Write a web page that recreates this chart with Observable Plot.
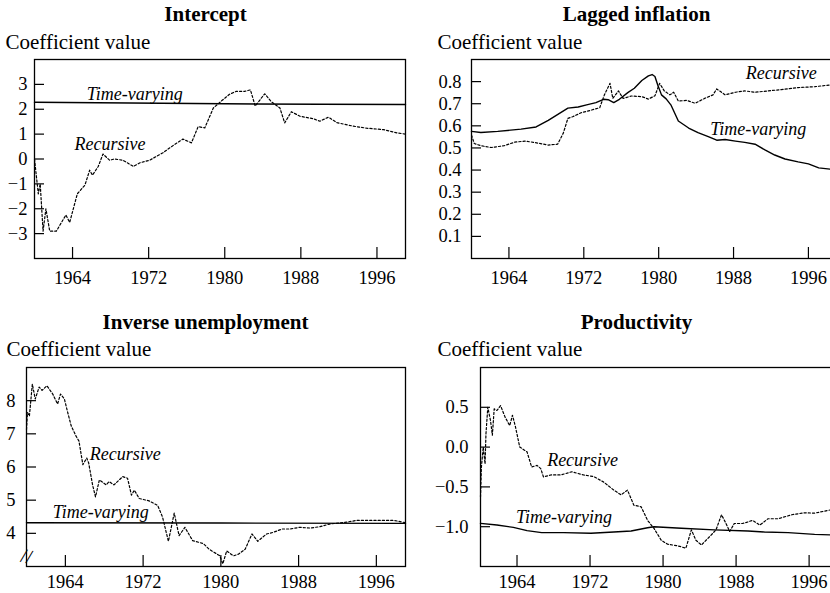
<!DOCTYPE html>
<html>
<head>
<meta charset="utf-8">
<script src="https://cdn.jsdelivr.net/npm/d3@7"></script>
<script src="https://cdn.jsdelivr.net/npm/@observablehq/plot@0.6"></script>
<style>
  html, body { margin: 0; padding: 0; background: #fff; overflow: hidden; }
  #wrap { position: relative; width: 830px; height: 593px; overflow: hidden; background: #fff; }
  #wrap svg { position: absolute; max-width: none !important; font-family: "Liberation Serif", "Times New Roman", serif !important; }
  #wrap svg text { font-family: "Liberation Serif", "Times New Roman", serif !important; }
</style>
</head>
<body>
<div id="wrap"></div>
<script>
// ---------- shared ----------
const xTickYears = [1964, 1972, 1980, 1988, 1996];
const seriesNames = ["Time-varying", "Recursive"];

// ---------- Intercept ----------
const icptTVYears = [1960, 1970, 1980, 1990, 1999];
const icptTV = [2.28, 2.25, 2.22, 2.2, 2.19];
const icptRecYears = [1960.0, 1960.4, 1960.6, 1960.9, 1961.2, 1961.6, 1962.3, 1963.3, 1963.7, 1964.5, 1965.3, 1965.8, 1966.1, 1966.7, 1967.2, 1967.9, 1968.4, 1969.3, 1970.4, 1971.1, 1972.1, 1973.5, 1974.6, 1975.6, 1976.5, 1977.2, 1977.9, 1978.8, 1979.7, 1980.5, 1981.2, 1982.1, 1982.7, 1983.2, 1984.2, 1984.9, 1985.8, 1986.3, 1987.0, 1987.9, 1989.3, 1990.0, 1990.9, 1991.8, 1993.5, 1994.9, 1996.7, 1998.1, 1999.0];
const icptRec = [0.0, -1.4, -1.0, -2.9, -2.0, -2.9, -2.9, -2.25, -2.55, -1.4, -1.05, -0.45, -0.65, -0.3, 0.2, -0.05, 0.0, -0.05, -0.3, -0.15, -0.05, 0.25, 0.55, 0.8, 0.65, 1.3, 1.25, 2.05, 2.35, 2.6, 2.72, 2.72, 2.78, 2.13, 2.62, 2.3, 2.05, 1.45, 1.9, 1.72, 1.62, 1.52, 1.68, 1.46, 1.32, 1.24, 1.18, 1.05, 1.0];
const icptYTicks = [-3, -2, -1, 0, 1, 2, 3];
const icptLabelX = [1965.5, 1964.2];
const icptLabelY = [2.6, 0.6];

// ---------- Lagged inflation ----------
const lagTVYears = [1960, 1961, 1962.8, 1965.3, 1966.9, 1968.2, 1970.3, 1971.4, 1972.3, 1973.3, 1974.1, 1974.6, 1975.2, 1975.8, 1976.7, 1977.4, 1978.2, 1978.9, 1979.3, 1979.6, 1979.9, 1980.3, 1980.8, 1981.3, 1982.1, 1983.2, 1984.2, 1985.3, 1986.2, 1987.1, 1988.2, 1989.2, 1990.3, 1991.4, 1992.4, 1993.5, 1994.9, 1996.0, 1997.1, 1998.3, 1999];
const lagTV = [0.575, 0.57, 0.575, 0.585, 0.595, 0.625, 0.68, 0.685, 0.695, 0.705, 0.72, 0.718, 0.705, 0.72, 0.75, 0.77, 0.805, 0.826, 0.832, 0.823, 0.785, 0.74, 0.722, 0.695, 0.622, 0.59, 0.569, 0.551, 0.535, 0.538, 0.531, 0.525, 0.517, 0.49, 0.468, 0.45, 0.437, 0.428, 0.41, 0.404, 0.402];
const lagRecYears = [1960, 1960.3, 1961, 1962.1, 1963.5, 1964.6, 1965.7, 1966.7, 1968.2, 1969.2, 1969.8, 1970.3, 1970.8, 1971.7, 1972.8, 1973.7, 1974.2, 1974.8, 1975.1, 1975.7, 1976.2, 1977.1, 1978.2, 1978.9, 1979.6, 1980.1, 1980.6, 1981.2, 1981.6, 1982.1, 1983.0, 1983.9, 1984.9, 1985.8, 1986.2, 1987.1, 1988.2, 1989.2, 1990.3, 1991.7, 1993.1, 1994.9, 1996.7, 1998.3, 1999];
const lagRec = [0.558, 0.52, 0.51, 0.502, 0.51, 0.526, 0.531, 0.525, 0.513, 0.517, 0.566, 0.634, 0.641, 0.659, 0.671, 0.682, 0.74, 0.792, 0.724, 0.758, 0.724, 0.735, 0.732, 0.721, 0.736, 0.792, 0.758, 0.74, 0.752, 0.712, 0.715, 0.702, 0.724, 0.74, 0.767, 0.74, 0.752, 0.758, 0.752, 0.758, 0.764, 0.773, 0.777, 0.785, 0.787];
const lagYTicks = [0.1, 0.2, 0.3, 0.4, 0.5, 0.6, 0.7, 0.8];
const lagLabelX = [1985.5, 1989.3];
const lagLabelY = [0.586, 0.836];

// ---------- Inverse unemployment ----------
const unTVYears = [1960, 1980, 1999];
const unTV = [4.32, 4.31, 4.30];
const unRecYears = [1960, 1960.1, 1960.3, 1960.6, 1960.9, 1961.3, 1961.6, 1962.1, 1962.7, 1963.2, 1963.5, 1963.9, 1964.2, 1964.6, 1965.1, 1965.4, 1965.8, 1966.2, 1966.4, 1966.8, 1967.1, 1967.5, 1968.2, 1968.5, 1969.0, 1969.9, 1970.4, 1970.8, 1971.1, 1971.6, 1972.6, 1973.5, 1974.0, 1974.6, 1974.9, 1975.2, 1975.7, 1976.3, 1977.1, 1978.2, 1978.8, 1979.9, 1980.2, 1980.6, 1981.3, 1981.8, 1982.5, 1983.2, 1983.8, 1984.7, 1985.4, 1986.3, 1987.1, 1988.1, 1989.2, 1990.2, 1991.2, 1993.0, 1994.0, 1996.1, 1997.8, 1999];
const unRec = [7.13, 7.64, 7.54, 8.5, 8.05, 8.41, 8.31, 8.45, 8.2, 7.9, 8.2, 8.05, 7.69, 7.24, 6.93, 6.78, 6.07, 6.27, 6.12, 5.46, 5.1, 5.61, 5.46, 5.56, 5.46, 5.71, 5.66, 5.15, 5.3, 5.05, 4.98, 4.84, 4.49, 3.76, 4.18, 4.61, 3.93, 4.18, 3.78, 3.69, 3.52, 3.32, 3.08, 3.47, 3.32, 3.37, 3.52, 3.98, 3.76, 3.98, 4.03, 4.13, 4.13, 4.18, 4.16, 4.2, 4.28, 4.34, 4.39, 4.39, 4.39, 4.32];
const unYTicks = [4, 5, 6, 7, 8];
const unLabelX = [1962.7, 1966.5];
const unLabelY = [4.65, 6.39];

// ---------- Productivity ----------
const prodTVYears = [1960, 1961.8, 1963.6, 1965.1, 1966.7, 1969.1, 1972.1, 1974.6, 1976.5, 1978.3, 1979.0, 1982.0, 1985.6, 1989.3, 1991.1, 1993.7, 1996.6, 1999];
const prodTV = [-0.958, -0.979, -1.008, -1.05, -1.075, -1.075, -1.083, -1.067, -1.054, -1.013, -1.0, -1.02, -1.04, -1.054, -1.067, -1.075, -1.096, -1.106];
const prodRecYears = [1960, 1960.1, 1960.3, 1960.5, 1960.6, 1960.8, 1961.1, 1961.3, 1961.5, 1961.8, 1962.2, 1962.7, 1963.2, 1963.5, 1963.8, 1964.3, 1965.1, 1965.6, 1966.2, 1966.6, 1966.9, 1967.7, 1968.8, 1970.0, 1971.3, 1972.4, 1973.5, 1974.6, 1975.4, 1976.1, 1976.8, 1977.6, 1978.3, 1979.0, 1979.8, 1980.5, 1981.6, 1982.5, 1983.1, 1983.6, 1984.2, 1985.1, 1985.8, 1986.4, 1986.9, 1987.3, 1987.8, 1988.7, 1989.3, 1989.8, 1990.6, 1991.5, 1992.6, 1994.1, 1995.5, 1996.6, 1998.3, 1999];
const prodRec = [-0.625, -0.25, 0.0, -0.21, 0.17, 0.5, 0.33, 0.15, 0.48, 0.46, 0.52, 0.375, 0.27, 0.4, 0.27, 0.0, -0.06, -0.25, -0.23, -0.27, -0.375, -0.35, -0.35, -0.31, -0.35, -0.37, -0.44, -0.54, -0.6, -0.54, -0.73, -0.75, -0.92, -1.02, -1.17, -1.22, -1.24, -1.27, -1.04, -1.17, -1.23, -1.125, -1.04, -0.85, -0.96, -1.06, -0.96, -0.96, -0.94, -0.92, -0.98, -0.9, -0.9, -0.85, -0.825, -0.83, -0.79, -0.78];
const prodYTicks = [-1.0, -0.5, 0.0, 0.5];
const prodLabelX = [1963.9, 1967.3];
const prodLabelY = [-0.88, -0.16];

// ---------- builder ----------
const serif = "'Liberation Serif', 'Times New Roman', serif";
function rows(xs, ys) { return xs.map((x, i) => ({x, y: ys[i]})); }

function panel(cfg) {
  const labels = seriesNames.map((name, i) => ({name, x: cfg.labelX[i], y: cfg.labelY[i]}));
  const marks = [
    Plot.frame({stroke: "black", strokeWidth: 1.3}),
    Plot.axisY(cfg.yTicks, {anchor: "left", tickSize: -10, tickPadding: cfg.yPad, tickFormat: cfg.yFormat, strokeWidth: 1.2, fontSize: 18.5, fontFamily: serif}),
    Plot.axisX(xTickYears, {anchor: "bottom", tickSize: -11, tickPadding: cfg.xPad, tickFormat: d => String(d), strokeWidth: 1.2, fontSize: 18.5, fontFamily: serif}),
    Plot.line(rows(cfg.recX, cfg.recY), {x: "x", y: "y", stroke: "black", strokeWidth: 1.2, strokeDasharray: "2.2,2"}),
    Plot.line(rows(cfg.tvX, cfg.tvY), {x: "x", y: "y", stroke: "black", strokeWidth: 1.4}),
    Plot.text(labels, {x: "x", y: "y", text: "name", textAnchor: "start", lineAnchor: "middle", fontStyle: "italic", fontSize: 18, fontFamily: serif, fill: "black"}),
    Plot.text([cfg.title], {text: d => d, frameAnchor: "top-left", dx: cfg.titleDx, dy: cfg.titleDy, textAnchor: "middle", lineAnchor: "middle", fontWeight: "bold", fontSize: 21, fontFamily: serif, fill: "black"}),
    Plot.text(["Coefficient value"], {text: d => d, frameAnchor: "top-left", dx: cfg.coefDx, dy: cfg.coefDy, textAnchor: "start", lineAnchor: "middle", fontSize: 21, fontFamily: serif, fill: "black"})
  ];
  if (cfg.breakMark) {
    marks.push(Plot.text(["//"], {text: d => d, frameAnchor: "bottom-left", dx: 0, dy: -10, textAnchor: "middle", lineAnchor: "middle", rotate: 12, fontSize: 20, fontFamily: serif, fill: "black"}));
  }
  const p = Plot.plot({
    width: cfg.width, height: cfg.height,
    marginLeft: cfg.ml, marginRight: cfg.mr, marginTop: cfg.mt, marginBottom: cfg.mb,
    style: {fontFamily: serif, fontSize: "18px", color: "black", background: "transparent", overflow: "visible"},
    x: {domain: [1960, 1999], label: null},
    y: {domain: cfg.yDomain, label: null},
    marks
  });
  p.style.left = cfg.left + "px";
  p.style.top = cfg.top + "px";
  p.style.position = "absolute";
  return p;
}

const wrap = document.getElementById("wrap");
const fmt1 = d3.format(".1f");

wrap.appendChild(panel({
  title: "Intercept", left: 0, top: 0, width: 415, height: 293, ml: 34, mr: 10, mt: 59, mb: 35,
  yDomain: [-4, 4], yTicks: icptYTicks, yFormat: d => d3.format("d")(d), xPad: 23, yPad: 17,
  tvX: icptTVYears, tvY: icptTV, recX: icptRecYears, recY: icptRec,
  labelX: icptLabelX, labelY: icptLabelY,
  titleDx: 171, titleDy: -45.7, coefDx: -29, coefDy: -17.7
}));

wrap.appendChild(panel({
  title: "Lagged inflation", left: 415, top: 0, width: 430, height: 293, ml: 56, mr: 9, mt: 59, mb: 35,
  yDomain: [0, 0.9], yTicks: lagYTicks, yFormat: fmt1, xPad: 23, yPad: 20,
  tvX: lagTVYears, tvY: lagTV, recX: lagRecYears, recY: lagRec,
  labelX: lagLabelX, labelY: lagLabelY,
  titleDx: 165, titleDy: -45.7, coefDx: -34, coefDy: -17.7
}));

wrap.appendChild(panel({
  title: "Inverse unemployment", left: 0, top: 293, width: 415, height: 300, ml: 26, mr: 10, mt: 74, mb: 27,
  yDomain: [3, 9], yTicks: unYTicks, yFormat: d => d3.format("d")(d), xPad: 19, yPad: 21,
  tvX: unTVYears, tvY: unTV, recX: unRecYears, recY: unRec,
  labelX: unLabelX, labelY: unLabelY, breakMark: true,
  titleDx: 179, titleDy: -45.7, coefDx: -20, coefDy: -18.7
}));

wrap.appendChild(panel({
  title: "Productivity", left: 415, top: 293, width: 430, height: 300, ml: 65, mr: 9, mt: 74, mb: 27,
  yDomain: [-1.5, 1.0], yTicks: prodYTicks, yFormat: fmt1, xPad: 19, yPad: 22,
  tvX: prodTVYears, tvY: prodTV, recX: prodRecYears, recY: prodRec,
  labelX: prodLabelX, labelY: prodLabelY,
  titleDx: 156, titleDy: -45.7, coefDx: -43, coefDy: -18.7
}));
</script>
</body>
</html>
